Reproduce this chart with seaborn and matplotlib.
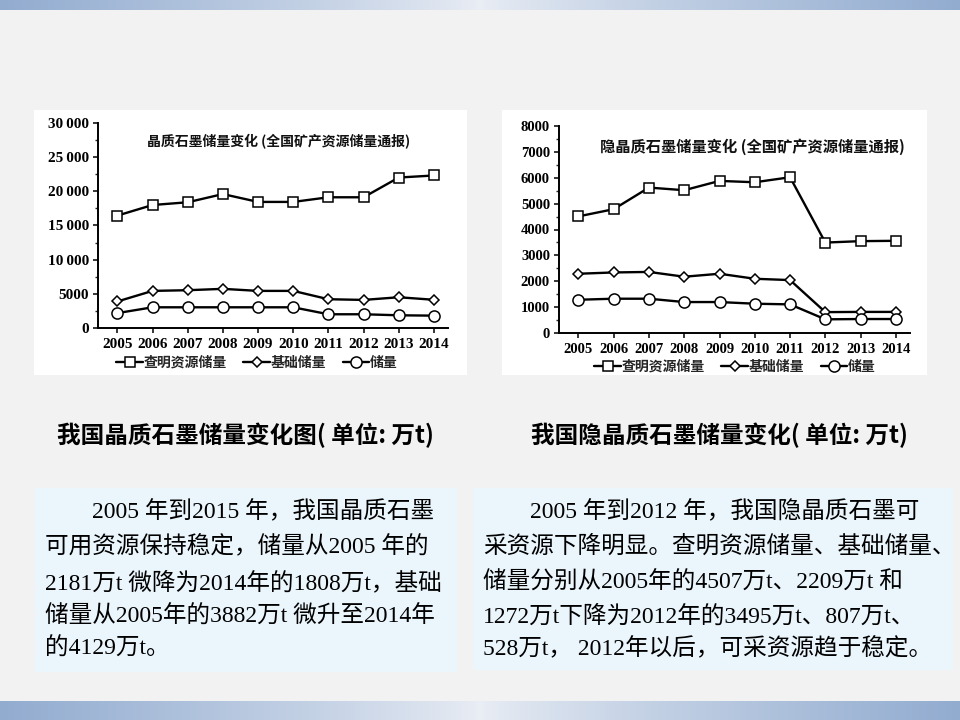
import numpy as np
import pandas as pd
import matplotlib
matplotlib.use("Agg")
import matplotlib.pyplot as plt
import seaborn as sns
from matplotlib.patches import Rectangle
from matplotlib.lines import Line2D
from matplotlib.ticker import FuncFormatter, AutoMinorLocator, MultipleLocator

# ---------------- data ----------------
years = [2005, 2006, 2007, 2008, 2009, 2010, 2011, 2012, 2013, 2014]
series_names = ["查明资源储量", "基础储量", "储量"]

# 晶质石墨 (left)
flake_proven = [16450, 18000, 18400, 19600, 18450, 18450, 19130, 19130, 22020, 22320]
flake_basic = [3882, 5430, 5530, 5730, 5430, 5430, 4210, 4110, 4500, 4129]
flake_reserve = [2181, 3030, 3030, 3030, 3030, 3030, 2010, 2010, 1860, 1808]

# 隐晶质石墨 (right)
amor_proven = [4507, 4785, 5620, 5518, 5878, 5826, 6019, 3495, 3550, 3563]
amor_basic = [2290, 2340, 2360, 2175, 2290, 2096, 2045, 807, 815, 815]
amor_reserve = [1285, 1325, 1325, 1196, 1196, 1132, 1106, 528, 540, 540]

left_title = "晶质石墨储量变化 (全国矿产资源储量通报)"
right_title = "隐晶质石墨储量变化 (全国矿产资源储量通报)"
left_heading = "我国晶质石墨储量变化图( 单位: 万t)"
right_heading = "我国隐晶质石墨储量变化( 单位: 万t)"
left_text = [
    "2005 年到2015 年，我国晶质石墨",
    "可用资源保持稳定，储量从2005 年的",
    "2181万t 微降为2014年的1808万t，基础",
    "储量从2005年的3882万t 微升至2014年",
    "的4129万t。",
]
right_text = [
    "2005 年到2012 年，我国隐晶质石墨可",
    "采资源下降明显。查明资源储量、基础储量、",
    "储量分别从2005年的4507万t、2209万t 和",
    "1272万t下降为2012年的3495万t、807万t、",
    "528万t， 2012年以后，可采资源趋于稳定。",
]

# ---------------- style ----------------
sns.set_style("ticks")
plt.rcParams["font.family"] = ["Liberation Serif", "Noto Sans CJK SC", "DejaVu Sans"]
CJK = ["Noto Sans CJK SC", "DejaVu Sans"]
SERIF = ["Liberation Serif", "Noto Sans CJK SC", "DejaVu Sans"]

W, H = 960, 720
fig = plt.figure(figsize=(9.6, 7.2), dpi=100)
fig.patch.set_facecolor("#f2f2f2")


def fx(px):
    return px / W


def fy(py):
    return 1 - py / H


def box(x0, y0, x1, y1):
    return [fx(x0), fy(y1), (x1 - x0) / W, (y1 - y0) / H]


# background bands
bg = fig.add_axes([0, 0, 1, 1], zorder=-10)
bg.axis("off")
xs = np.linspace(-1, 1, 400)
t = np.abs(xs) ** 0.8
c_edge = np.array([0x92, 0xac, 0xd0]) / 255
c_mid = np.array([0xea, 0xee, 0xf5]) / 255
grad = (c_mid[None, :] * (1 - t[:, None]) + c_edge[None, :] * t[:, None])[None, :, :]
bg.imshow(grad, extent=[0, W, 10, 0], aspect="auto")
bg.imshow(grad, extent=[0, W, 720, 701], aspect="auto")
bg.set_xlim(0, W)
bg.set_ylim(H, 0)

# white panels behind the charts
bg.add_patch(Rectangle((34, 110), 433, 265, facecolor="white", edgecolor="none"))
bg.add_patch(Rectangle((502, 110), 425, 265, facecolor="white", edgecolor="none"))
# light blue text boxes
bg.add_patch(Rectangle((35, 488), 422, 184, facecolor="#eaf5fc", edgecolor="none"))
bg.add_patch(Rectangle((473, 488), 480, 182, facecolor="#eaf5fc", edgecolor="none"))

markers = ["s", "D", "o"]
msizes = [7, 5.5, 8]


def draw_chart(axbox, data, ymax, ystep, fmt, title, title_xy, title_size,
               legend_xy, tick_size):
    ax = fig.add_axes(axbox)
    ax.set_facecolor("none")
    for vals, m, ms in zip(data, markers, msizes):
        df = pd.DataFrame({"year": years, "value": vals})
        sns.lineplot(data=df, x="year", y="value", ax=ax, color="black",
                     linewidth=1.7, marker=m, markersize=ms,
                     markerfacecolor="white", markeredgecolor="black",
                     markeredgewidth=1.1)
    ax.set_xlim(2004.45, 2014.4)
    ax.set_ylim(0, ymax)
    ax.set_xticks(years)
    ax.set_xticklabels([str(y) for y in years])
    ax.yaxis.set_major_locator(MultipleLocator(ystep))
    ax.yaxis.set_minor_locator(AutoMinorLocator(2))
    ax.yaxis.set_major_formatter(FuncFormatter(fmt))
    ax.set_xlabel("")
    ax.set_ylabel("")
    for s in ["top", "right"]:
        ax.spines[s].set_visible(False)
    for s in ["left", "bottom"]:
        ax.spines[s].set_linewidth(1.4)
        ax.spines[s].set_color("black")
    ax.tick_params(axis="both", direction="out", colors="black", width=1.1,
                   length=3.5, labelsize=tick_size)
    ax.tick_params(axis="y", which="minor", length=2.5, width=1)
    ax.tick_params(axis="x", pad=4)
    ax.tick_params(axis="y", pad=3)
    for lab in ax.get_xticklabels() + ax.get_yticklabels():
        lab.set_fontweight("bold")
        lab.set_family(SERIF)
    fig.text(fx(title_xy[0]), fy(title_xy[1]), title, family=CJK,
             fontsize=title_size, fontweight="bold", ha="center", va="center",
             color="#111111")
    handles = [Line2D([], [], color="black", linewidth=1.7, marker=m,
                      markersize=ms, markerfacecolor="white",
                      markeredgecolor="black", markeredgewidth=1.1)
               for m, ms in zip(markers, msizes)]
    fig.legend(handles, series_names, loc="center",
               bbox_to_anchor=(fx(legend_xy[0]), fy(legend_xy[1])),
               ncol=3, frameon=False, handlelength=1.9, handletextpad=0.05,
               columnspacing=1.2, borderpad=0.1,
               prop={"family": CJK, "size": 10, "weight": "bold"})
    return ax


def fmt_left(v, pos):
    v = int(round(v))
    if v >= 10000:
        return f"{v // 1000}\u2009{v % 1000:03d}"
    return str(v)


def fmt_right(v, pos):
    return str(int(round(v)))


draw_chart(box(98, 123, 448, 328),
           [flake_proven, flake_basic, flake_reserve],
           30000, 5000, fmt_left, left_title, (279, 142), 10, (257, 363), 11)
draw_chart(box(559, 126, 910, 333),
           [amor_proven, amor_basic, amor_reserve],
           8000, 1000, fmt_right, right_title, (752, 147), 11, (735, 367), 10.5)

# headings
fig.text(fx(245), fy(435), left_heading, family=CJK, fontsize=17,
         fontweight="bold", ha="center", va="center", color="black")
fig.text(fx(719), fy(435), right_heading, family=CJK, fontsize=17,
         fontweight="bold", ha="center", va="center", color="black")

# body texts
line_ys = [512, 547, 583, 617, 649]
for i, (line, yy) in enumerate(zip(left_text, line_ys)):
    x0 = 92 if i == 0 else 45
    fig.text(fx(x0), fy(yy), line, family=SERIF, fontsize=17,
             ha="left", va="center", color="black")
for i, (line, yy) in enumerate(zip(right_text, line_ys)):
    x0 = 530 if i == 0 else 483
    fig.text(fx(x0), fy(yy), line, family=SERIF, fontsize=17,
             ha="left", va="center", color="black")

fig.savefig("out.png", dpi=100, facecolor=fig.get_facecolor())
